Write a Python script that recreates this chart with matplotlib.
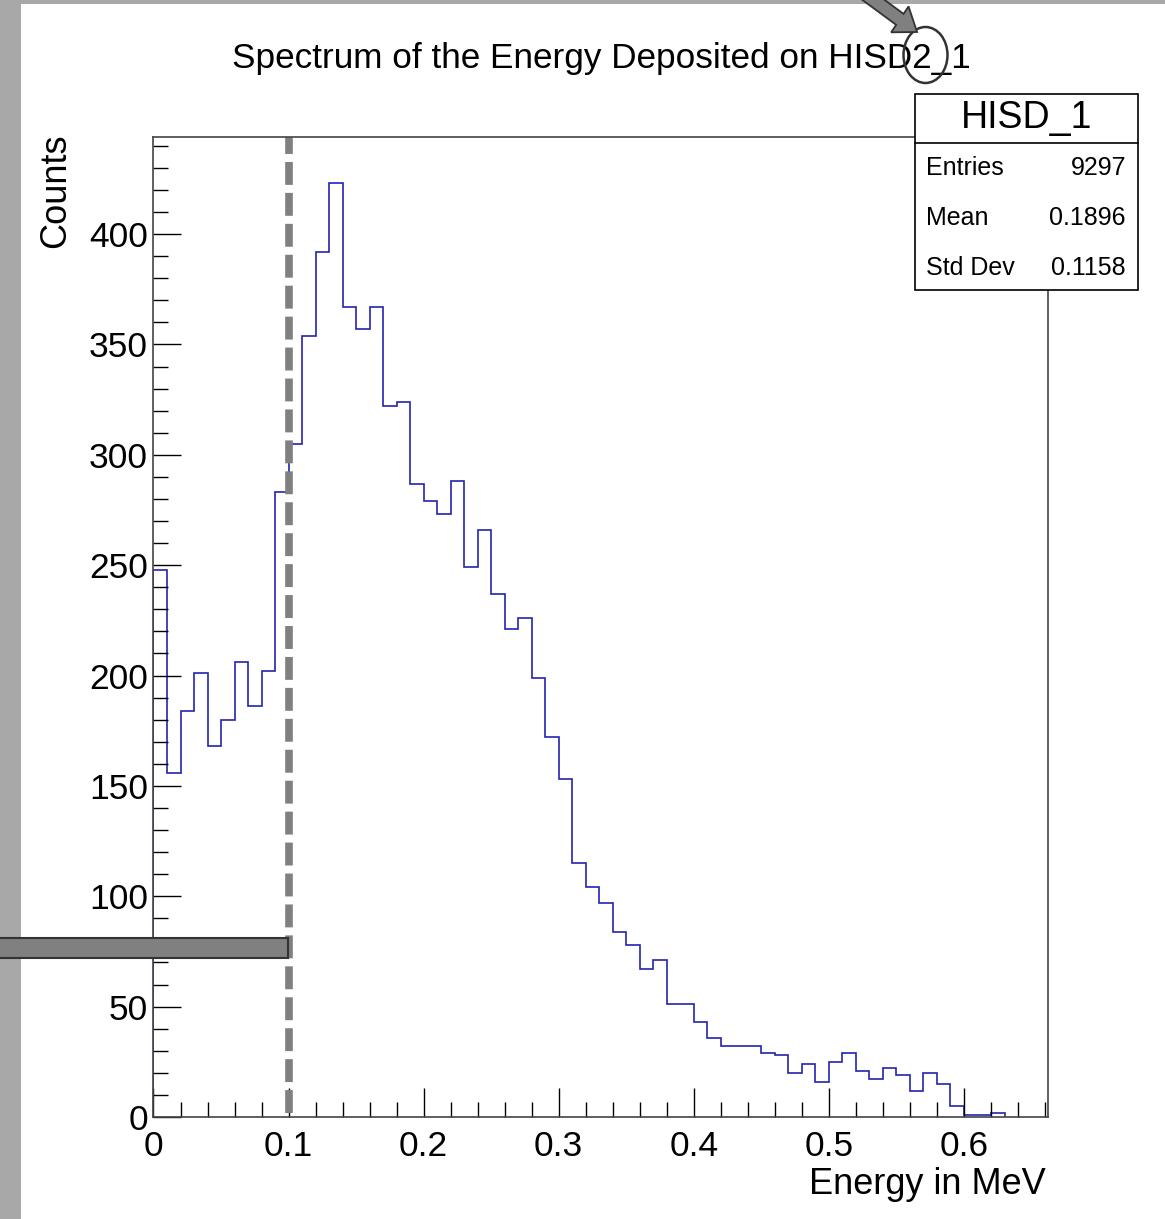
import numpy as np
import matplotlib
matplotlib.use('Agg')
import matplotlib.pyplot as plt
from matplotlib.patches import Rectangle, Ellipse, FancyArrow
from matplotlib.ticker import MultipleLocator, FuncFormatter

plt.rcParams['font.family'] = ['Liberation Sans', 'DejaVu Sans']

# histogram contents, bin width 0.01 MeV starting at 0
counts = [248, 156, 184, 201, 168, 180, 206, 186, 202, 283,
          305, 354, 392, 423, 367, 357, 367, 322, 324, 287,
          279, 273, 288, 249, 266, 237, 221, 226, 199, 172,
          153, 115, 104, 97, 84, 78, 67, 71, 51, 51,
          43, 36, 32, 32, 32, 29, 28, 20, 24, 16,
          25, 29, 21, 17, 22, 19, 12, 20, 15, 5,
          1, 1, 2]
bin_width = 0.01
threshold = 0.1

stats_labels = ['Entries', 'Mean', 'Std Dev']
stats_values = ['9297', '0.1896', '0.1158']

title = 'Spectrum of the Energy Deposited on HISD2_1'

W, H = 1165, 1219


def fx(x):
    return x / W


def fy(y):
    return 1 - y / H


edges = np.arange(len(counts) + 1) * bin_width

fig = plt.figure(figsize=(W / 100, H / 100), dpi=100)
ax = fig.add_axes([fx(153.5), fy(1117), fx(1048) - fx(153.5), fy(137) - fy(1117)])

ax.stairs(counts, edges, color='#2424b0', lw=1.2, baseline=0)
ax.axvline(threshold, ymin=0.004, ymax=1, color='#808080', lw=5.5, dashes=(3, 1.05))

ax.set_xlim(0, 0.6622)
ax.set_ylim(0, 444)

ax.xaxis.set_major_locator(MultipleLocator(0.1))
ax.xaxis.set_minor_locator(MultipleLocator(0.02))
ax.yaxis.set_major_locator(MultipleLocator(50))
ax.yaxis.set_minor_locator(MultipleLocator(10))
ax.xaxis.set_major_formatter(FuncFormatter(lambda v, p: '%g' % round(v, 2)))
ax.yaxis.set_major_formatter(FuncFormatter(lambda v, p: '%g' % v))

ax.tick_params(axis='x', which='major', direction='in', length=21, width=1, labelsize=25.5, pad=9)
ax.tick_params(axis='x', which='minor', direction='in', length=10.5, width=1)
ax.tick_params(axis='y', which='major', direction='in', length=20, width=1, labelsize=25.5, pad=4)
ax.tick_params(axis='y', which='minor', direction='in', length=11, width=1)
for s in ax.spines.values():
    s.set_linewidth(1.2)
    s.set_color('#444444')

fig.text(fx(1046), fy(1185), 'Energy in MeV', ha='right', va='center', fontsize=26)
fig.text(fx(56), fy(134), 'Counts', ha='center', va='top', rotation=90, fontsize=26)
fig.text(fx(601), fy(68), title, ha='center', va='baseline', fontsize=25.3)

# stats box
box = Rectangle((fx(915), fy(290)), fx(1138) - fx(915), fy(94) - fy(290),
                transform=fig.transFigure, facecolor='white', edgecolor='black', lw=1.2, zorder=5)
fig.patches.append(box)
fig.add_artist(plt.Line2D([fx(915), fx(1138)], [fy(143), fy(143)], color='black', lw=1.2, zorder=6))
fig.text(fx(1027), fy(118), 'HISD_1', ha='center', va='center', fontsize=27, zorder=7)
for i, (lab, val) in enumerate(zip(stats_labels, stats_values)):
    yy = fy(168 + 50 * i)
    fig.text(fx(926), yy, lab, ha='left', va='center', fontsize=18, zorder=7)
    fig.text(fx(1126), yy, val, ha='right', va='center', fontsize=18, zorder=7)

# grey frame of the screenshot
fig.patches.append(Rectangle((0, 0), fx(20.5), 1, transform=fig.transFigure,
                             facecolor='#a8a8a8', edgecolor='none', zorder=8))
fig.patches.append(Rectangle((0, fy(4)), 1, fy(0) - fy(4), transform=fig.transFigure,
                             facecolor='#a8a8a8', edgecolor='none', zorder=8))

# annotation marks drawn over the plot
fig.patches.append(Rectangle((fx(-2), fy(958)), fx(288) - fx(-2), fy(938) - fy(958),
                             transform=fig.transFigure, facecolor='#808080',
                             edgecolor='#333333', lw=1.5, zorder=9))
fig.patches.append(Ellipse((fx(925.5), fy(55)), fx(44), 56 / H, transform=fig.transFigure,
                           facecolor='none', edgecolor='#333333', lw=1.8, zorder=9))
fig.patches.append(FancyArrow(fx(860), fy(-10), fx(917) - fx(860), fy(32) - fy(-10),
                              width=0.011, head_width=0.026, head_length=0.018,
                              length_includes_head=True, transform=fig.transFigure,
                              facecolor='#808080', edgecolor='#333333', lw=1.3, zorder=9))

fig.savefig('out.png', dpi=100)
